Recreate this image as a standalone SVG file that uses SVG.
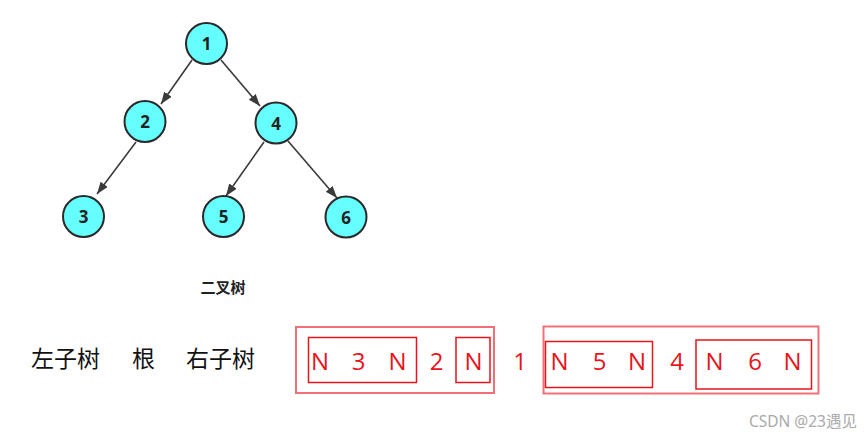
<svg xmlns="http://www.w3.org/2000/svg" width="868" height="437" viewBox="0 0 868 437">
<style>
.node circle{fill:#66ffff;stroke:#2a2a2a;stroke-width:2}
.node text{font-family:"Open Sans","Noto Sans",sans-serif;font-weight:bold;font-size:17px;fill:#222;text-anchor:middle;dominant-baseline:central}
.edge{stroke:#3a3a3a;stroke-width:1.6;fill:none;marker-end:url(#ah)}
.lbl{font-family:"Noto Sans CJK SC",sans-serif;font-size:23px;fill:#111}
.seq{font-family:"Open Sans","Noto Sans",sans-serif;font-size:24px;fill:#e8141b;text-anchor:middle}
.outer{fill:none;stroke:#f07078;stroke-width:2}
.inner{fill:none;stroke:#e8141b;stroke-width:1.5}
</style>
<defs>
<marker id="ah" markerUnits="userSpaceOnUse" markerWidth="13" markerHeight="10" refX="12" refY="4.5" orient="auto">
<path d="M0,0 L12,4.5 L0,9 Z" fill="#3a3a3a"/>
</marker>
</defs>
<rect width="868" height="437" fill="#fff"/>
<g id="connectors">
<line class="edge" x1="192" y1="60" x2="161" y2="104"/>
<line class="edge" x1="221" y1="60" x2="260" y2="106"/>
<line class="edge" x1="136" y1="142" x2="97" y2="194"/>
<line class="edge" x1="264" y1="142" x2="226" y2="196"/>
<line class="edge" x1="288" y1="141" x2="337" y2="198"/>
</g>
<g id="n1" class="node"><circle cx="206.5" cy="43.5" r="20.5"/><text x="206.5" y="43.5">1</text></g>
<g id="n2" class="node"><circle cx="145" cy="121.5" r="20.5"/><text x="145" y="121.5">2</text></g>
<g id="n4" class="node"><circle cx="276" cy="123" r="20.5"/><text x="276" y="123">4</text></g>
<g id="n3" class="node"><circle cx="83.5" cy="216.5" r="20.5"/><text x="83.5" y="216.5">3</text></g>
<g id="n5" class="node"><circle cx="223.5" cy="216.5" r="20.5"/><text x="223.5" y="216.5">5</text></g>
<g id="n6" class="node"><circle cx="346" cy="217" r="20.5"/><text x="346" y="217">6</text></g>
<text x="223" y="293" font-family="Noto Sans CJK SC,sans-serif" font-size="15" font-weight="bold" fill="#222" text-anchor="middle">二叉树</text>
<g id="labels">
<text class="lbl" x="31" y="367">左子树</text>
<text class="lbl" x="132" y="367">根</text>
<text class="lbl" x="186" y="367">右子树</text>
</g>
<g id="boxes">
<rect class="outer" x="296" y="327" width="198" height="66"/>
<rect class="inner" x="308.5" y="337.5" width="108" height="45"/>
<rect class="inner" x="456" y="337.5" width="34" height="45"/>
<rect class="outer" x="543.5" y="326.5" width="275" height="67"/>
<rect class="inner" x="545.5" y="341.5" width="107" height="46"/>
<rect class="inner" x="696" y="340" width="115.5" height="49"/>
</g>
<g id="sequence">
<text class="seq" x="320" y="370">N</text>
<text class="seq" x="358.5" y="370">3</text>
<text class="seq" x="397.5" y="370">N</text>
<text class="seq" x="436.5" y="370">2</text>
<text class="seq" x="473.5" y="370">N</text>
<text class="seq" x="520" y="370">1</text>
<text class="seq" x="559.5" y="370">N</text>
<text class="seq" x="599.5" y="370">5</text>
<text class="seq" x="637" y="370">N</text>
<text class="seq" x="677" y="370">4</text>
<text class="seq" x="714.5" y="370">N</text>
<text class="seq" x="755" y="370">6</text>
<text class="seq" x="792.5" y="370">N</text>
</g>
<text x="857" y="427" font-family="Noto Sans,Noto Sans CJK SC,sans-serif" font-size="15.5" fill="#aaa" text-anchor="end">CSDN @23遇见</text>
</svg>
